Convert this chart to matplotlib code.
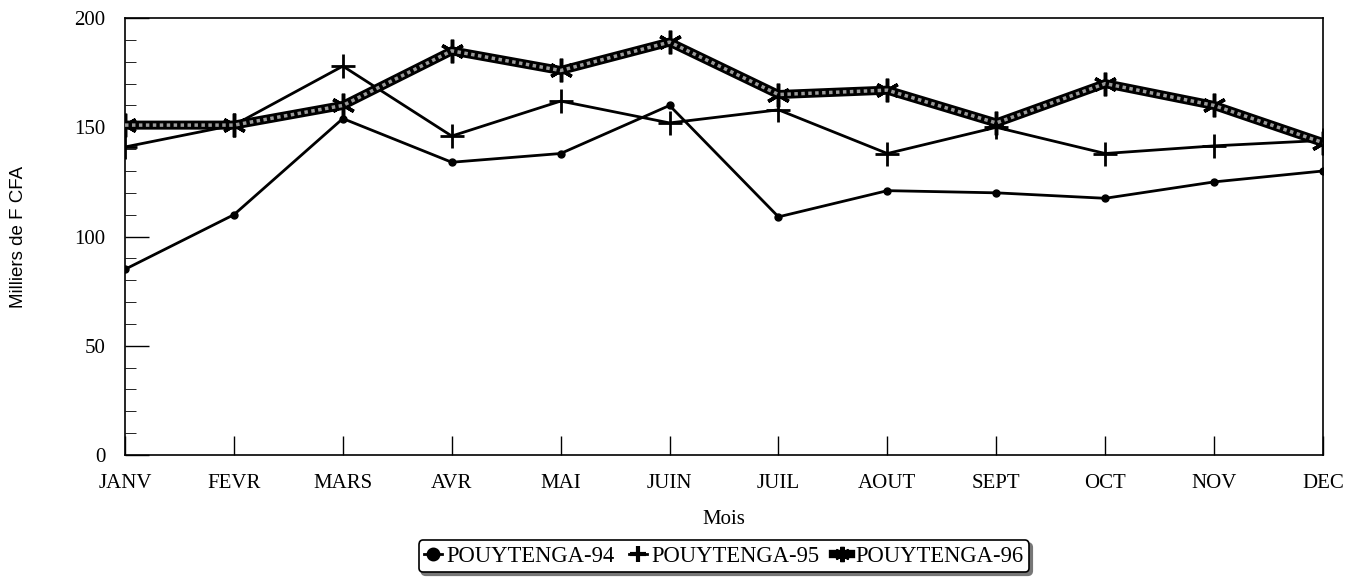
import matplotlib.pyplot as plt
from matplotlib.ticker import MultipleLocator

mois = ['JANV', 'FEVR', 'MARS', 'AVR', 'MAI', 'JUIN', 'JUIL', 'AOUT', 'SEPT', 'OCT', 'NOV', 'DEC']
pouytenga_94 = [85, 110, 154, 134, 138, 160, 109, 121, 120, 117.5, 125, 130]
pouytenga_95 = [141, 151, 178, 146, 162, 152, 158, 138, 150, 138, 141.5, 144]
pouytenga_96 = [151, 151, 160, 185, 176, 189, 165, 167, 152, 170, 160, 143]

plt.rcParams['font.family'] = ['Liberation Serif', 'DejaVu Serif']

fig = plt.figure(figsize=(13.68, 5.81), dpi=100)
ax = fig.add_axes([0.0914, 0.2169, 0.8757, 0.7520])

x = list(range(len(mois)))

ax.plot(x, pouytenga_94, color='black', lw=2, marker='o', ms=5, label='POUYTENGA-94')
ax.plot(x, pouytenga_95, color='black', lw=2, marker='+', ms=17, mew=2, label='POUYTENGA-95')
# thick textured line for 96: black outline with grey core
ax.plot(x, pouytenga_96, color='black', lw=6.5, marker=(6, 2, 0), ms=17, mew=2.5, zorder=3)
ax.plot(x, pouytenga_96, color='#9a9a9a', lw=2.5, ls=(0, (1, 1)), zorder=4)
ax.plot([], [], color='black', lw=6, marker=(6, 2, 0), ms=11, mew=3, label='POUYTENGA-96')

ax.set_xlim(0, len(mois) - 1)
ax.set_ylim(0, 200)
ax.set_xticks(x)
ax.set_xticklabels(mois)
ax.yaxis.set_major_locator(MultipleLocator(50))
ax.yaxis.set_minor_locator(MultipleLocator(10))
ax.tick_params(axis='both', direction='in', labelsize=15, width=1)
ax.tick_params(axis='y', which='major', length=17, pad=14)
ax.tick_params(axis='y', which='minor', length=8, direction='in')
ax.tick_params(axis='x', which='major', length=14, pad=14)
for s in ax.spines.values():
    s.set_linewidth(1.2)

ax.set_xlabel('Mois', fontsize=15, labelpad=12)
ax.set_ylabel('Milliers de F CFA', fontsize=13.5, family=['Liberation Sans', 'DejaVu Sans'], labelpad=34)

leg = ax.legend(loc='upper center', bbox_to_anchor=(0.5, -0.195), ncol=3, fontsize=16.3,
                frameon=True, fancybox=True, edgecolor='black',
                shadow={'color': '#777777', 'alpha': 1},
                handlelength=0.8, handletextpad=0.2, columnspacing=0.6, borderpad=0.25,
                borderaxespad=0)
leg.get_frame().set_linewidth(1.2)
# smaller symbols in the legend keys
for h, ms in zip(leg.legend_handles, [7, 12, 11]):
    h.set_markersize(ms)
    h.set_markeredgewidth(3)

fig.savefig('out.png', dpi=100)
